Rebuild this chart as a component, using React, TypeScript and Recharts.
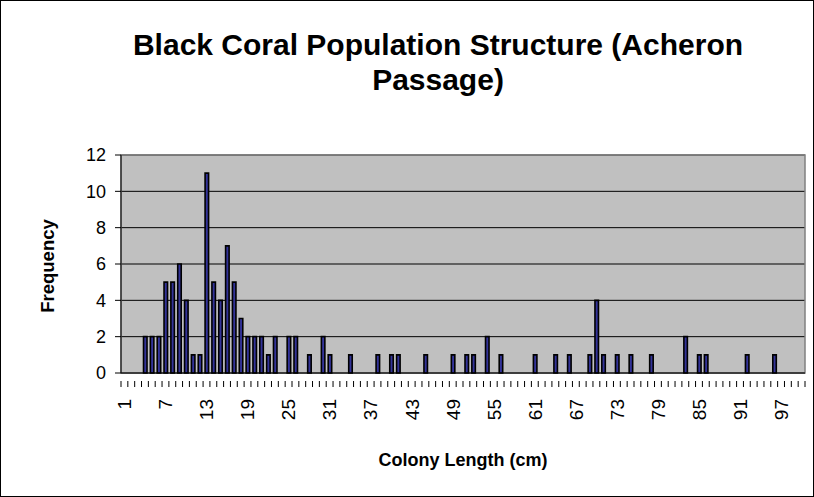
import React from 'react';
import { BarChart, Bar, XAxis, YAxis, CartesianGrid, ReferenceArea } from 'recharts';

// colony length classes 1..100 cm
const lengths: number[] = Array.from({ length: 100 }, (_, i) => i + 1);

// frequency per length class
const frequency: number[] = [
  0, 0, 0, 2, 2, 2, 5, 5, 6, 4,
  1, 1, 11, 5, 4, 7, 5, 3, 2, 2,
  2, 1, 2, 0, 2, 2, 0, 1, 0, 2,
  1, 0, 0, 1, 0, 0, 0, 1, 0, 1,
  1, 0, 0, 0, 1, 0, 0, 0, 1, 0,
  1, 1, 0, 2, 0, 1, 0, 0, 0, 0,
  1, 0, 0, 1, 0, 1, 0, 0, 1, 4,
  1, 0, 1, 0, 1, 0, 0, 1, 0, 0,
  0, 0, 2, 0, 1, 1, 0, 0, 0, 0,
  0, 1, 0, 0, 0, 1, 0, 0, 0, 0,
];

const yTicks: number[] = [0, 2, 4, 6, 8, 10, 12];

const data = lengths.map((len, i) => ({ len, count: frequency[i] }));

const W = 814;
const H = 497;
const margin = { top: 155, right: 9, bottom: 64, left: 80 };
const Y_AXIS_W = 41;
const X_AXIS_H = 60;
const plotW = W - margin.left - Y_AXIS_W - margin.right;
const band = plotW / lengths.length;

const font = 'Liberation Sans, Arial, sans-serif';

const LengthTick = (props: any) => {
  const { x, y, payload, index } = props;
  const left = x - band / 2;
  return (
    <g>
      <line x1={left} x2={left} y1={y} y2={y + 6} stroke="#000" strokeWidth={1} />
      {index === lengths.length - 1 && (
        <line x1={x + band / 2} x2={x + band / 2} y1={y} y2={y + 6} stroke="#000" strokeWidth={1} />
      )}
      {index % 6 === 0 && (
        <text
          x={x}
          y={y + 18}
          dy="0.36em"
          transform={`rotate(-90, ${x}, ${y + 18})`}
          textAnchor="end"
          style={{ fontFamily: font, fontSize: '19px', fill: '#000' }}
        >
          {payload.value}
        </text>
      )}
    </g>
  );
};

export default function App() {
  return (
    <div
      style={{
        position: 'absolute',
        left: 0,
        top: 0,
        width: W,
        height: H,
        background: '#fff',
        border: '1px solid #000',
        boxSizing: 'border-box',
        fontFamily: font,
      }}
    >
      <div
        style={{
          position: 'absolute',
          left: 0,
          width: 874,
          top: 26,
          textAlign: 'center',
          fontWeight: 'bold',
          fontSize: 30,
          lineHeight: '35px',
          color: '#000',
        }}
      >
        Black Coral Population Structure (Acheron
        <br />
        Passage)
      </div>

      <div
        style={{
          position: 'absolute',
          left: 47,
          top: 265,
          transform: 'translate(-50%, -50%) rotate(-90deg)',
          fontWeight: 'bold',
          fontSize: 18.5,
          whiteSpace: 'nowrap',
          color: '#000',
        }}
      >
        Frequency
      </div>

      <div
        style={{
          position: 'absolute',
          left: 462,
          top: 459,
          transform: 'translate(-50%, -50%)',
          fontWeight: 'bold',
          fontSize: 18,
          whiteSpace: 'nowrap',
          color: '#000',
        }}
      >
        Colony Length (cm)
      </div>

      <div style={{ position: 'absolute', left: -1, top: -1 }}>
        <BarChart width={W} height={H} data={data} margin={margin} barSize={3.5}>
          <CartesianGrid vertical={false} stroke="#000" fill="#C0C0C0" fillOpacity={1} />
          <XAxis
            dataKey="len"
            type="category"
            interval={0}
            height={X_AXIS_H}
            axisLine={{ stroke: '#000' }}
            tickLine={false}
            tick={<LengthTick />}
          />
          <YAxis
            width={Y_AXIS_W}
            domain={[0, 12]}
            ticks={yTicks}
            interval={0}
            axisLine={{ stroke: '#000' }}
            tickLine={{ stroke: '#000' }}
            tickSize={6}
            tickMargin={9}
            tick={{ fill: '#000', fontSize: 18, fontFamily: font }}
          />
          <ReferenceArea x1={1} x2={100} y1={0} y2={12} fill="none" stroke="#808080" strokeWidth={1.5} />
          <Bar
            dataKey="count"
            fill="#333399"
            stroke="#000"
            strokeWidth={1.6}
            isAnimationActive={false}
          />
        </BarChart>
      </div>
    </div>
  );
}
